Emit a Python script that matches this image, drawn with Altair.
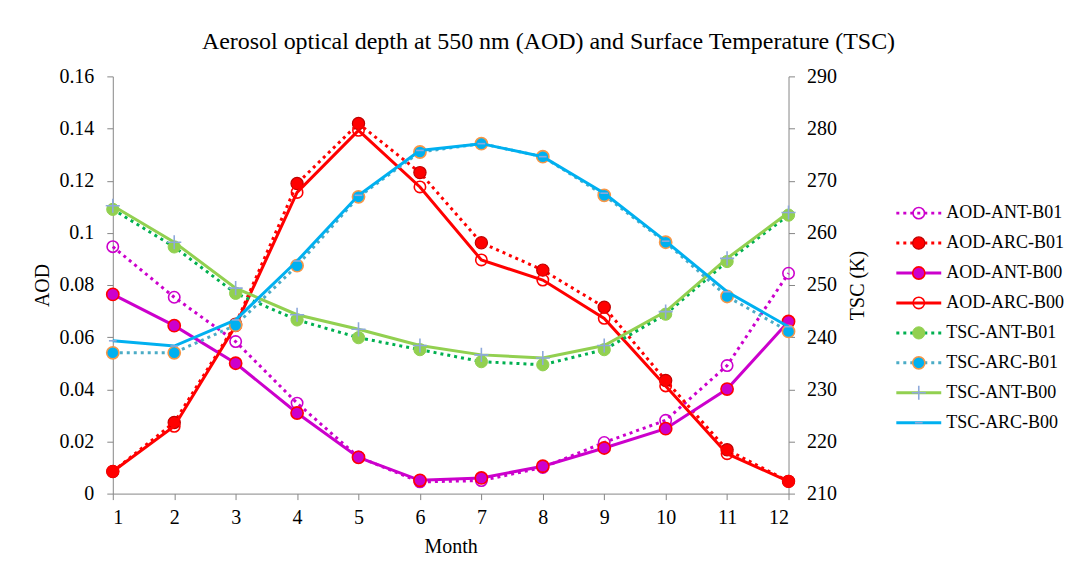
import altair as alt
import pandas as pd

# ---------------- data ----------------
months = list(range(1, 13))

aod_ant_b01 = [0.0947, 0.0753, 0.0583, 0.0347, 0.0140, 0.0045, 0.0050, 0.0100, 0.0196, 0.0281, 0.0491, 0.0845]
aod_arc_b01 = [0.0085, 0.0273, 0.0650, 0.1189, 0.1419, 0.1231, 0.0962, 0.0857, 0.0715, 0.0434, 0.0168, 0.0047]
aod_ant_b00 = [0.0764, 0.0644, 0.0500, 0.0309, 0.0139, 0.0051, 0.0060, 0.0105, 0.0175, 0.0249, 0.0401, 0.0660]
aod_arc_b00 = [0.0085, 0.0258, 0.0644, 0.1155, 0.1393, 0.1176, 0.0896, 0.0819, 0.0672, 0.0413, 0.0153, 0.0047]

tsc_ant_b01 = [264.5, 257.3, 248.4, 243.3, 239.9, 237.6, 235.3, 234.7, 237.6, 244.4, 254.5, 263.4]
tsc_arc_b01 = [237.0, 237.0, 242.3, 253.7, 266.9, 275.5, 277.1, 274.6, 267.2, 258.2, 247.8, 241.1]
tsc_ant_b00 = [265.2, 258.2, 249.4, 244.3, 241.5, 238.4, 236.6, 236.0, 238.4, 244.9, 255.1, 263.9]
tsc_arc_b00 = [239.3, 238.3, 243.3, 254.6, 267.2, 275.8, 277.1, 274.6, 267.6, 258.4, 248.7, 242.0]

aod_names = ["AOD-ANT-B01", "AOD-ARC-B01", "AOD-ANT-B00", "AOD-ARC-B00"]
tsc_names = ["TSC-ANT-B01", "TSC-ARC-B01", "TSC-ANT-B00", "TSC-ARC-B00"]
series_names = aod_names + tsc_names

aod_ticks = [0, 0.02, 0.04, 0.06, 0.08, 0.1, 0.12, 0.14, 0.16]
tsc_ticks = [210, 220, 230, 240, 250, 260, 270, 280, 290]

TITLE = "Aerosol optical depth at 550 nm (AOD) and Surface Temperature (TSC)"
FONT = "Liberation Serif"

series_values = {
    "AOD-ANT-B01": aod_ant_b01, "AOD-ARC-B01": aod_arc_b01,
    "AOD-ANT-B00": aod_ant_b00, "AOD-ARC-B00": aod_arc_b00,
    "TSC-ANT-B01": tsc_ant_b01, "TSC-ARC-B01": tsc_arc_b01,
    "TSC-ANT-B00": tsc_ant_b00, "TSC-ARC-B00": tsc_arc_b00,
}

# ---------------- styles ----------------
DOT = [3, 4]
PLUS = "M-1,0L1,0M0,-1L0,1"
line_style = {
    "AOD-ANT-B01": dict(color="#CC00CC", strokeWidth=3, strokeDash=DOT),
    "AOD-ARC-B01": dict(color="#FF0000", strokeWidth=3, strokeDash=DOT),
    "AOD-ANT-B00": dict(color="#CC00CC", strokeWidth=3),
    "AOD-ARC-B00": dict(color="#FF0000", strokeWidth=3),
    "TSC-ANT-B01": dict(color="#00B050", strokeWidth=3, strokeDash=DOT),
    "TSC-ARC-B01": dict(color="#4BACC6", strokeWidth=3, strokeDash=DOT),
    "TSC-ANT-B00": dict(color="#92D050", strokeWidth=3),
    "TSC-ARC-B00": dict(color="#00B0F0", strokeWidth=3),
}
point_style = {
    "AOD-ANT-B01": dict(shape="circle", size=130, filled=False, stroke="#CC00CC", strokeWidth=1.6),
    "AOD-ARC-B01": dict(shape="circle", size=150, filled=True, fill="#FF0000", stroke="#C00000", strokeWidth=1.2),
    "AOD-ANT-B00": dict(shape="circle", size=150, filled=True, fill="#CC00CC", stroke="#FF0000", strokeWidth=1.6),
    "AOD-ARC-B00": dict(shape="circle", size=130, filled=False, stroke="#FF0000", strokeWidth=1.6),
    "TSC-ANT-B01": dict(shape="circle", size=150, filled=True, fill="#92D050", stroke="#92D050", strokeWidth=1),
    "TSC-ARC-B01": dict(shape="circle", size=150, filled=True, fill="#00B0F0", stroke="#F79646", strokeWidth=1.6),
    "TSC-ANT-B00": dict(shape=PLUS, size=200, filled=False, stroke="#8EA9DB", strokeWidth=1.6),
    "TSC-ARC-B00": dict(shape="stroke", size=60, filled=False, stroke="#8EA9DB", strokeWidth=1.6),
}

axis_common = dict(
    grid=False, domainColor="#868686", tickColor="#868686", tickSize=6,
    labelFont=FONT, labelFontSize=20, labelColor="#000000",
    titleFont=FONT, titleFontSize=20, titleFontWeight="normal", titleColor="#000000",
)

x_enc = alt.X(
    "Month:Q",
    scale=alt.Scale(domain=[1, 12], nice=False, zero=False),
    axis=alt.Axis(values=months, format="d", title="Month", labelPadding=8, titlePadding=9, **axis_common),
)
aod_y = alt.Y(
    "Value:Q",
    scale=alt.Scale(domain=[0, 0.16], nice=False, zero=False),
    axis=alt.Axis(values=aod_ticks, format="~g", title="AOD", orient="left",
                  labelPadding=13, titlePadding=6, **axis_common),
)
tsc_y = alt.Y(
    "Value:Q",
    scale=alt.Scale(domain=[210, 290], nice=False, zero=False),
    axis=alt.Axis(values=tsc_ticks, format="d", title="TSC (K)", orient="right", titleAngle=270,
                  labelPadding=12, titlePadding=31, **axis_common),
)


def series_layers(name, y_enc):
    df = pd.DataFrame({"Month": months, "Value": series_values[name], "Series": name})
    base = alt.Chart(df)
    line = base.mark_line(**line_style[name]).encode(x=x_enc, y=y_enc)
    pts = base.mark_point(opacity=1, **point_style[name]).encode(x=x_enc, y=y_enc)
    return [line, pts]


aod_layers = []
for n in aod_names:
    aod_layers += series_layers(n, aod_y)
tsc_layers = []
for n in tsc_names:
    tsc_layers += series_layers(n, tsc_y)

main = alt.layer(alt.layer(*aod_layers), alt.layer(*tsc_layers)).resolve_scale(y="independent").properties(
    width=677, height=418
)

# ---------------- legend panel ----------------
legend_df = pd.DataFrame({"Series": series_names})
leg_y = alt.Y("Series:N", scale=alt.Scale(type="point", domain=series_names, range=[137, 347], padding=0), axis=None)

legend_layers = []
for n in series_names:
    b = alt.Chart(legend_df).transform_filter(alt.datum.Series == n)
    legend_layers.append(
        b.mark_rule(**line_style[n]).encode(x=alt.value(0), x2=alt.value(45), y=leg_y)
    )
    legend_layers.append(
        b.mark_point(opacity=1, **point_style[n]).encode(x=alt.value(22.5), y=leg_y)
    )
legend_layers.append(
    alt.Chart(legend_df).mark_text(align="left", baseline="middle", font=FONT, fontSize=18, color="#000000", dx=5)
    .encode(x=alt.value(45), y=leg_y, text="Series:N")
)
legend = alt.layer(*legend_layers).properties(width=45, height=418)

chart = alt.hconcat(main, legend, spacing=27).properties(
    title=alt.TitleParams(TITLE, font=FONT, fontSize=24, fontWeight="normal", color="#000000",
                          anchor="middle", offset=12),
    padding={"left": 33, "top": 30, "right": 2, "bottom": 5},
    background="white",
).configure_view(strokeWidth=0)

chart.save("out.html", embed_options={"renderer": "svg", "actions": False})
